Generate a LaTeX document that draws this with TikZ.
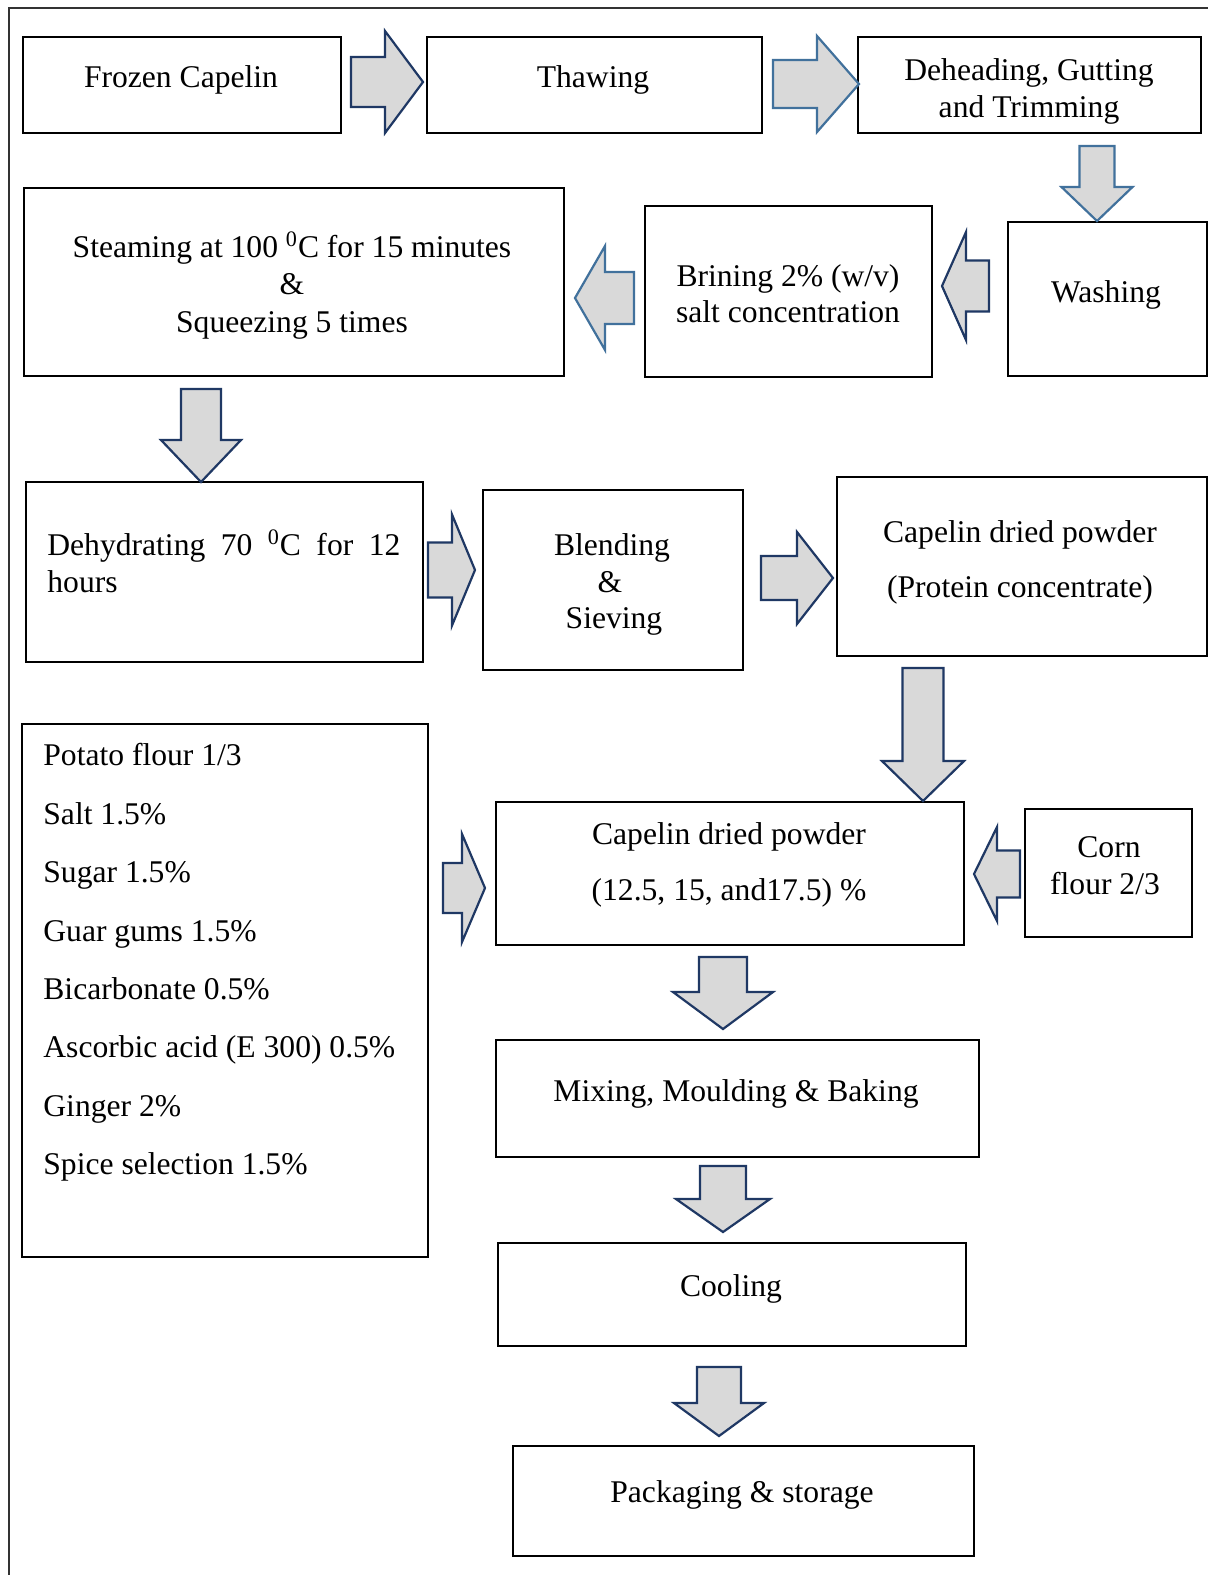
\documentclass[tikz,border=0pt]{standalone}
\usepackage{fontspec}
\setmainfont{Liberation Serif}
\usetikzlibrary{fit}
\definecolor{navy}{HTML}{1F3864}
\definecolor{steel}{HTML}{41719C}
\definecolor{agray}{HTML}{D9D9D9}
\tikzset{
 box/.style={draw=black, line width=1.25pt, inner sep=0pt},
 txt/.style={font=\fontsize{15.8}{19}\selectfont, inner sep=0pt, anchor=base, yshift=-1pt},
 ltxt/.style={txt, anchor=base west},
 darr/.style={draw=navy, fill=agray, line width=1.1pt},
 larr/.style={draw=steel, fill=agray, line width=1.1pt},
}
% horizontal block arrow: style, tail x, head-base x, tip x, tip y, body half, head half
\newcommand\arH[7]{\draw[#1] ({#2},{#5-#6}) -- ({#3},{#5-#6}) -- ({#3},{#5-#7}) -- ({#4},{#5}) -- ({#3},{#5+#7}) -- ({#3},{#5+#6}) -- ({#2},{#5+#6}) -- cycle;}
% vertical block arrow: style, tip x, tail y, head-base y, tip y, body half, head half
\newcommand\arV[7]{\draw[#1] ({#2-#6},{#3}) -- ({#2+#6},{#3}) -- ({#2+#6},{#4}) -- ({#2+#7},{#4}) -- ({#2},{#5}) -- ({#2-#7},{#4}) -- ({#2-#6},{#4}) -- cycle;}
\newcommand\bx[5]{\node[box, fit={(#2,#3) (#4,#5)}] (#1) {};}
\begin{document}
\begin{tikzpicture}[x=0.5pt, y=-0.5pt]
\useasboundingbox (0,0) rectangle (1208,1575);
\fill[white] (0,0) rectangle (1208,1575);
\draw[line width=1pt, black!80] (9,1575) -- (9,8) -- (1208,8);

% boxes
\bx{frozen}{23}{37}{341}{133}
\bx{thawing}{427}{37}{762}{133}
\bx{dehead}{858}{37}{1201}{133}
\bx{steam}{24}{188}{564}{376}
\bx{brine}{645}{206}{932}{377}
\bx{wash}{1008}{222}{1207}{376}
\bx{dehyd}{26}{482}{423}{662}
\bx{blend}{483}{490}{743}{670}
\bx{capprot}{837}{477}{1207}{656}
\bx{list}{22}{724}{428}{1257}
\bx{captwo}{496}{802}{964}{945}
\bx{corn}{1025}{809}{1192}{937}
\bx{mixing}{496}{1040}{979}{1157}
\bx{cooling}{498}{1243}{966}{1346}
\bx{packaging}{513}{1446}{974}{1556}

% texts
\node[txt] (t1) at (181,85) {Frozen Capelin};
\node[txt] (t2) at (593,85) {Thawing};
\node[txt] (t3a) at (1029,78) {Deheading, Gutting};
\node[txt] (t3b) at (1029,115) {and Trimming};
\node[txt] (t4) at (1106,300) {Washing};
\node[txt] (t5a) at (788,284) {Brining 2\% (w/v)};
\node[txt] (t5b) at (788,320) {salt concentration};
\node[txt] (t6a) at (292,255) {Steaming at 100 \textsuperscript{0}C for 15 minutes};
\node[txt] (t6b) at (292,292) {\&};
\node[txt] (t6c) at (292,330) {Squeezing 5 times};
\node[ltxt] (t7a) at (47,553) {\makebox[176.5pt][s]{Dehydrating 70 \textsuperscript{0}C for 12}};
\node[ltxt] (t7b) at (47,590) {hours};
\node[txt] (t8a) at (612,553) {Blending};
\node[txt] (t8b) at (610,590) {\&};
\node[txt] (t8c) at (614,626) {Sieving};
\node[txt] (t9a) at (1020,540) {Capelin dried powder};
\node[txt] (t9b) at (1020,595) {(Protein concentrate)};
\node[ltxt] (l1) at (43,763) {Potato flour 1/3};
\node[ltxt] (l2) at (43,822) {Salt 1.5\%};
\node[ltxt] (l3) at (43,880) {Sugar 1.5\%};
\node[ltxt] (l4) at (43,939) {Guar gums 1.5\%};
\node[ltxt] (l5) at (43,997) {Bicarbonate 0.5\%};
\node[ltxt] (l6) at (43,1055) {Ascorbic acid (E 300) 0.5\%};
\node[ltxt] (l7) at (43,1114) {Ginger 2\%};
\node[ltxt] (l8) at (43,1172) {Spice selection 1.5\%};
\node[txt] (t10a) at (729,842) {Capelin dried powder};
\node[txt] (t10b) at (729,898) {(12.5, 15, and17.5) \%};
\node[txt] (t11a) at (1109,855) {Corn};
\node[txt] (t11b) at (1105,892) {flour 2/3};
\node[txt] (t12) at (736,1099) {Mixing, Moulding \& Baking};
\node[txt] (t13) at (731,1294) {Cooling};
\node[txt] (t14) at (742,1500) {Packaging \& storage};

% block arrows
\arH{darr}{351}{385}{423}{82}{25}{51}
\arH{larr}{773}{817}{859}{84}{24}{48}
\arV{larr}{1097}{146}{187}{221}{17.5}{35.5}
\arH{darr}{989}{966}{942}{286}{25.5}{54}
\arH{larr}{634}{605}{575}{298}{26}{52}
\arV{darr}{201}{389}{440}{482}{20}{40}
\arH{darr}{428}{452}{475}{570}{27.5}{55.5}
\arH{darr}{761}{797}{833}{578}{22}{46}
\arV{darr}{923}{668}{761}{801}{20.5}{41}
\arH{darr}{443}{462}{485}{888}{25}{54}
\arH{darr}{1020}{997}{974}{874}{23.5}{47}
\arV{darr}{723}{957}{992}{1029}{24}{50}
\arV{darr}{723}{1166}{1199}{1232}{23}{47}
\arV{darr}{719}{1367}{1403}{1436}{22}{45}
\end{tikzpicture}
\end{document}
